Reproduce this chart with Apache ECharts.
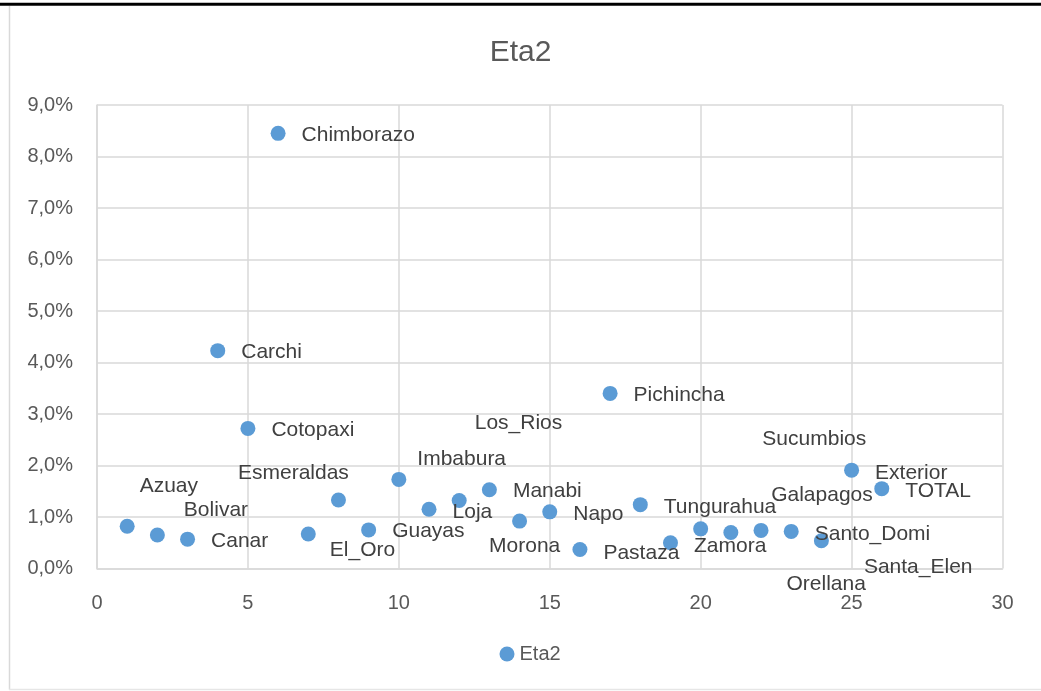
<!DOCTYPE html>
<html>
<head>
<meta charset="utf-8">
<title>Eta2</title>
<script src="https://cdn.jsdelivr.net/npm/echarts@6/dist/echarts.min.js"></script>
<style>
  html, body { margin: 0; padding: 0; background: #ffffff; }
  #chart { width: 1041px; height: 691px; }
</style>
</head>
<body>
<div id="chart"></div>
<script>
// Province labels, in province-code order
const provinces = [
  'Azuay', 'Bolivar', 'Canar', 'Carchi', 'Cotopaxi', 'Chimborazo', 'El_Oro',
  'Esmeraldas', 'Guayas', 'Imbabura', 'Loja', 'Los_Rios', 'Manabi', 'Morona',
  'Napo', 'Pastaza', 'Pichincha', 'Tungurahua', 'Zamora', 'Galapagos',
  'Sucumbios', 'Orellana', 'Santo_Domi', 'Santa_Elen', 'Exterior', 'TOTAL'
];

// X position of each province (its code)
const codes = [1, 2, 3, 4, 5, 6, 7, 8, 9, 10, 11, 12, 13, 14, 15, 16, 17, 18, 19, 20, 21, 22, 23, 24, 25, 26];

// Eta2 in percent
const eta2 = [
  0.82, 0.65, 0.57, 4.23, 2.72, 8.45, 0.67, 1.33, 0.75, 1.73, 1.15, 1.32, 1.53,
  0.92, 1.10, 0.37, 3.40, 1.24, 0.50, 0.77, 0.70, 0.74, 0.72, 0.54, 1.91, 1.55
];

// Axis ticks
const xTicks = { min: 0, max: 30, step: 5 };
const yTicks = { min: 0, max: 9, step: 1 };

// Hand-placed label nudges (pixels), to keep labels from colliding
const labelShift = [
  [-11, -42], [3, -26], [0, 1], [0, 0], [0, 0], [0, 0], [-2, 15],
  [-124, -28], [0, 0], [-5, -22], [0, 1], [-8, -79], [0, 0], [-54, 24],
  [0, 1], [0, 2], [0, 0], [0, 1], [0, 2], [47, -35],
  [8, -95], [2, 52], [0, 1], [19, 25], [0, 2], [0, 1]
];

const TEXT = '#595959';
const GRID = '#d9d9d9';
const BLUE = '#5b9bd5';
const FONT = '"Liberation Sans", Arial, sans-serif';

const points = codes.map((x, i) => ({ value: [x, eta2[i]], name: provinces[i] }));

const chart = echarts.init(document.getElementById('chart'), null, { renderer: 'canvas' });

chart.setOption({
  backgroundColor: '#ffffff',
  animation: false,
  textStyle: { fontFamily: FONT },
  title: {
    text: 'Eta2',
    left: 'center',
    top: 33,
    textStyle: { fontFamily: FONT, fontSize: 30, fontWeight: 'normal', color: TEXT }
  },
  legend: {
    left: 494.5,
    top: 639,
    icon: 'circle',
    itemWidth: 15,
    itemHeight: 15,
    itemStyle: { color: BLUE, opacity: 1 },
    textStyle: { fontFamily: FONT, fontSize: 20, color: TEXT },
    data: ['Eta2']
  },
  grid: { left: 97, right: 38.5, top: 105, bottom: 122.5, containLabel: false },
  xAxis: {
    type: 'value',
    min: xTicks.min,
    max: xTicks.max,
    interval: xTicks.step,
    axisLine: { show: true, onZero: false, lineStyle: { color: GRID, width: 1.5 } },
    axisTick: { show: false },
    splitLine: { show: true, lineStyle: { color: GRID, width: 1.5 } },
    axisLabel: { color: TEXT, fontFamily: FONT, fontSize: 20, margin: 25 }
  },
  yAxis: {
    type: 'value',
    min: yTicks.min,
    max: yTicks.max,
    interval: yTicks.step,
    axisLine: { show: true, onZero: false, lineStyle: { color: GRID, width: 1.5 } },
    axisTick: { show: false },
    splitLine: { show: true, lineStyle: { color: GRID, width: 1.5 } },
    axisLabel: {
      color: TEXT,
      fontFamily: FONT,
      fontSize: 20,
      margin: 24,
      formatter: v => v.toFixed(1).replace('.', ',') + '%'
    }
  },
  series: [{
    name: 'Eta2',
    type: 'scatter',
    symbol: 'circle',
    symbolSize: 15,
    itemStyle: { color: BLUE, opacity: 1 },
    data: points,
    label: {
      show: true,
      position: 'right',
      distance: 16,
      formatter: p => p.name,
      color: '#404040',
      fontFamily: FONT,
      fontSize: 21
    },
    labelLayout: p => ({
      dx: labelShift[p.dataIndex][0],
      dy: labelShift[p.dataIndex][1] + 1.5,
      hideOverlap: false
    })
  }],
  graphic: [
    // chart frame
    { type: 'line', silent: true, shape: { x1: 9.5, y1: 6, x2: 9.5, y2: 689.5 },
      style: { stroke: GRID, lineWidth: 1.5 } },
    { type: 'line', silent: true, shape: { x1: 9, y1: 689.5, x2: 1041, y2: 689.5 },
      style: { stroke: '#e6e6e6', lineWidth: 1.5 } },
    { type: 'line', silent: true, shape: { x1: 0, y1: 4.3, x2: 1041, y2: 4.3 },
      style: { stroke: '#000000', lineWidth: 3 } }
  ]
});
</script>
</body>
</html>
